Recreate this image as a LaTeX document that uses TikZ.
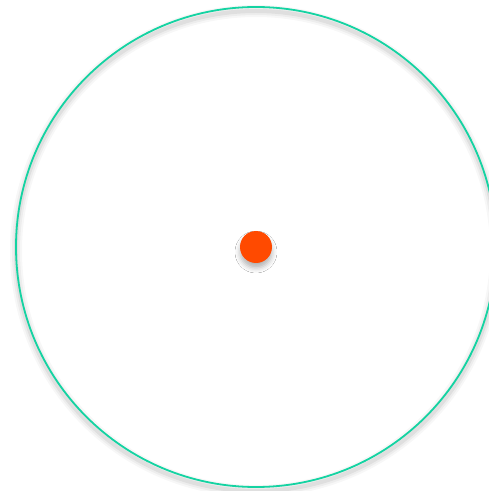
\documentclass[tikz,border=0pt]{standalone}
\usetikzlibrary{shadows.blur}
\definecolor{ringteal}{HTML}{14D3A2}
\definecolor{dotorange}{HTML}{FF4A00}
\tikzset{
  ring/.style={draw=ringteal, line width=1.8pt},
  ringshadow/.style={draw=black, line width=#1},
  dot/.style={circle, fill=dotorange, minimum size=32pt, inner sep=0pt, blur shadow={shadow xshift=0pt, shadow yshift=-5pt, shadow blur radius=5pt, shadow opacity=30}}
}
\begin{document}
\begin{tikzpicture}[x=1pt,y=1pt]
\useasboundingbox (0,0) rectangle (489,491);
\clip (0,0) rectangle (489,491);
\fill[white] (0,0) rectangle (489,491);
% soft shadow of the ring
\foreach \w/\o in {12pt/3, 8pt/4, 4pt/6} {
  \draw[ringshadow=\w, draw opacity=\o/100] (256,240) circle (240);
}
\draw[ring] (256,244) circle (240);
\node[dot] (center) at (256,244) {};
\end{tikzpicture}
\end{document}
